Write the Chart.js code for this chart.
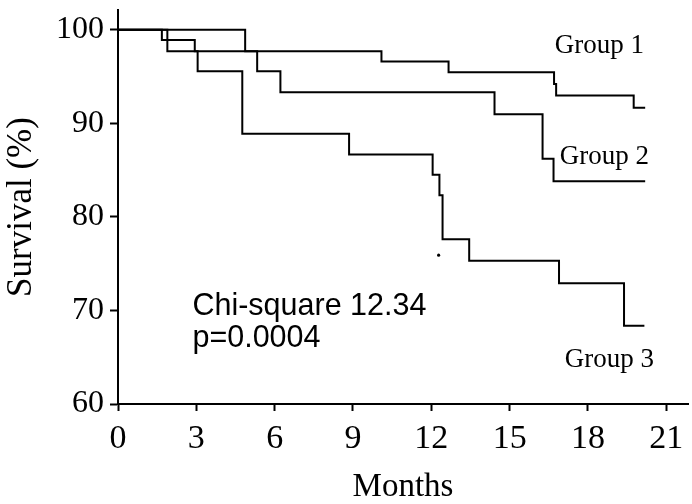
<!DOCTYPE html>
<html>
<head>
<meta charset="utf-8">
<script src="https://cdn.jsdelivr.net/npm/chart.js@4.4.0/dist/chart.umd.min.js"></script>
<style>
html,body{margin:0;padding:0;background:#fff;}
canvas{display:block;}
</style>
</head>
<body>
<canvas id="c" width="692" height="504"></canvas>
<script>
// ---- data ----
const xTickLabels = [0, 3, 6, 9, 12, 15, 18, 21];
const yTickLabels = [60, 70, 80, 90, 100];

const group1Months   = [0, 4.87, 10.09, 12.66, 16.70, 16.78, 19.75, 20.19];
const group1Survival = [100, 97.7, 96.6, 95.45, 94.2, 92.96, 91.65, 91.65];

const group2Months   = [0, 1.89, 5.33, 6.22, 14.42, 16.26, 16.68, 20.19];
const group2Survival = [100, 97.7, 95.56, 93.3, 90.97, 86.2, 83.8, 83.8];

const group3Months   = [0, 1.68, 2.94, 3.05, 4.76, 8.85, 12.05, 12.31, 12.43, 13.45, 16.89, 19.38, 20.16];
const group3Survival = [100, 98.9, 97.7, 95.56, 88.87, 86.67, 84.5, 82.3, 77.6, 75.3, 72.9, 68.35, 68.35];

const strayMarkMonths = [12.28];
const strayMarkSurvival = [75.9];

const groupLabels = ['Group 1', 'Group 2', 'Group 3'];
const statLines = ['Chi-square 12.34', 'p=0.0004'];

// ---- build ----
const toPts = (xs, ys) => xs.map((x, i) => ({x: x, y: ys[i]}));
const serif = "'Liberation Serif', 'Times New Roman', serif";
const sans = "'Liberation Sans', Arial, sans-serif";

const lineStyle = {
  borderColor: '#000', borderWidth: 2, pointRadius: 0, fill: false,
  stepped: 'before', tension: 0
};

const annotations = {
  id: 'annotations',
  afterDraw(chart) {
    const ctx = chart.ctx, xs = chart.scales.x, ys = chart.scales.y;
    ctx.save();
    ctx.fillStyle = '#000';
    ctx.textAlign = 'left';
    ctx.textBaseline = 'alphabetic';
    ctx.font = '27px ' + serif;
    const gpos = [[16.73, 97.55], [16.92, 85.67], [17.11, 63.95]];
    groupLabels.forEach((t, i) => {
      ctx.fillText(t, xs.getPixelForValue(gpos[i][0]), ys.getPixelForValue(gpos[i][1]));
    });
    ctx.font = '30.5px ' + sans;
    const spos = [[2.85, 69.5], [2.85, 66.1]];
    statLines.forEach((t, i) => {
      ctx.fillText(t, xs.getPixelForValue(spos[i][0]), ys.getPixelForValue(spos[i][1]));
    });
    ctx.restore();
  }
};

new Chart(document.getElementById('c'), {
  type: 'line',
  data: {
    datasets: [
      Object.assign({label: groupLabels[0], data: toPts(group1Months, group1Survival)}, lineStyle),
      Object.assign({label: groupLabels[1], data: toPts(group2Months, group2Survival)}, lineStyle),
      Object.assign({label: groupLabels[2], data: toPts(group3Months, group3Survival)}, lineStyle),
      {label: 'mark', data: toPts(strayMarkMonths, strayMarkSurvival), showLine: false,
       pointRadius: 1.6, pointBackgroundColor: '#000', pointBorderWidth: 0}
    ]
  },
  options: {
    responsive: false,
    animation: false,
    devicePixelRatio: 1,
    layout: {padding: {top: 10, right: 0, left: 0, bottom: 0}},
    plugins: {legend: {display: false}, tooltip: {enabled: false}},
    scales: {
      x: {
        type: 'linear', min: 0, max: 21.83,
        afterBuildTicks(s) { s.ticks = xTickLabels.map(v => ({value: v})); },
        afterFit(s) { s.height = 100; s.paddingLeft = 0; s.paddingRight = 0; },
        ticks: {color: '#000', font: {family: serif, size: 34}, padding: 8, maxRotation: 0, autoSkip: false},
        grid: {drawOnChartArea: false, drawTicks: true, tickLength: 7, tickWidth: 2, tickColor: '#000'},
        border: {display: true, color: '#000', width: 2},
        title: {display: true, text: 'Months', color: '#000', font: {family: serif, size: 33}, padding: {top: 0, bottom: -3}}
      },
      y: {
        type: 'linear', min: 60, max: 102.1,
        afterBuildTicks(s) { s.ticks = yTickLabels.map(v => ({value: v})); },
        afterFit(s) { s.width = 118; s.paddingTop = 0; s.paddingBottom = 0; },
        ticks: {color: '#000', font: {family: serif, size: 32}, padding: 6},
        grid: {drawOnChartArea: false, drawTicks: true, tickLength: 8, tickWidth: 2, tickColor: '#000'},
        border: {display: true, color: '#000', width: 2},
        title: {display: true, text: 'Survival (%)', color: '#000', font: {family: serif, size: 35}, padding: {top: 1, bottom: 2}}
      }
    }
  },
  plugins: [annotations]
});
</script>
</body>
</html>
